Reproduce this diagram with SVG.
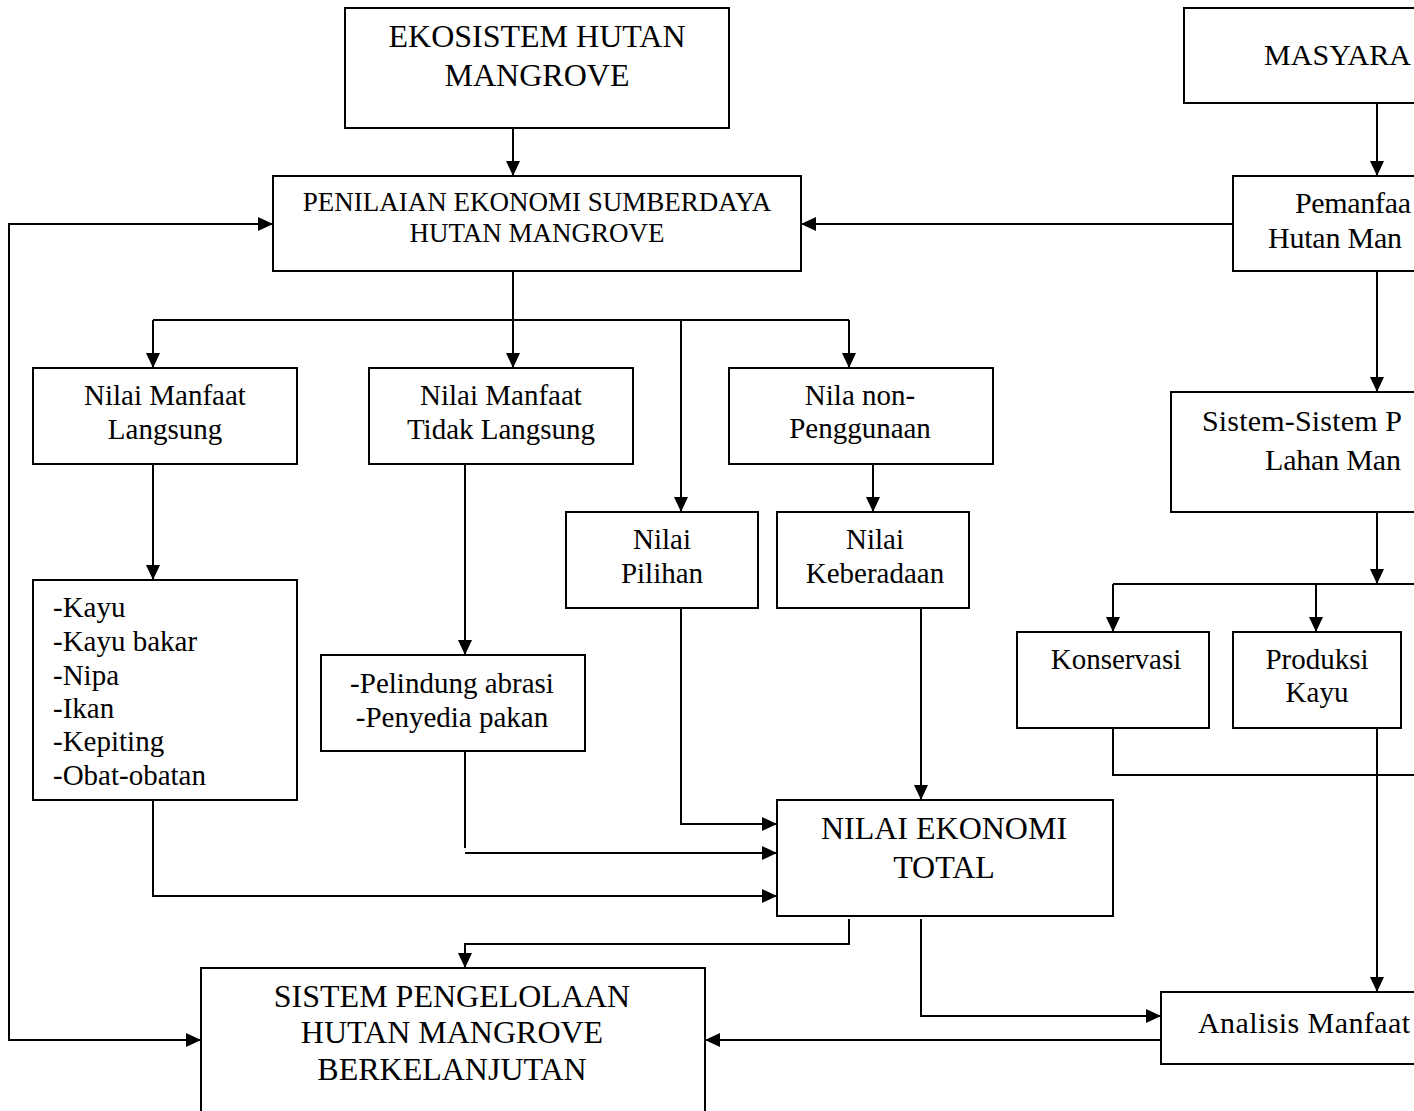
<svg xmlns="http://www.w3.org/2000/svg" width="1414" height="1111" viewBox="0 0 1414 1111">
<defs>
<style>
.box{fill:#fff;stroke:#000;stroke-width:2}
.ln{fill:none;stroke:#000;stroke-width:2}
.arr{marker-end:url(#ah)}
text{font-family:"Liberation Serif","Times New Roman",serif;fill:#000}
.big{font-size:32px}
.mid{font-size:29px}
.rt{font-size:30px}
.pen{font-size:27px}
.c{text-anchor:middle}
</style>
<marker id="ah" markerUnits="userSpaceOnUse" markerWidth="16" markerHeight="14" refX="15" refY="7" orient="auto-start-reverse">
<path d="M0,0 L15,7 L0,14 Z" fill="#000"/>
</marker>
</defs>
<rect width="1414" height="1111" fill="#fff"/>

<g id="connectors">
<path class="ln arr" d="M513,128 V176"/>
<path class="ln" d="M513,271 V320 M153,320 H849"/>
<path class="ln arr" d="M153,320 V368"/>
<path class="ln arr" d="M513,320 V368"/>
<path class="ln arr" d="M849,320 V368"/>
<path class="ln arr" d="M681,320 V512"/>
<path class="ln arr" d="M1233,224 H801"/>
<path class="ln" d="M273,224 H9 V1040 H201" marker-start="url(#ah)" marker-end="url(#ah)"/>
<path class="ln arr" d="M1377,103 V176"/>
<path class="ln arr" d="M1377,271 V392"/>
<path class="ln arr" d="M1377,512 V584"/>
<path class="ln" d="M1113,584 H1414"/>
<path class="ln arr" d="M1113,584 V632"/>
<path class="ln arr" d="M1316,584 V632"/>
<path class="ln" d="M1113,728 V775 H1414"/>
<path class="ln arr" d="M1377,728 V992"/>
<path class="ln arr" d="M153,464 V580"/>
<path class="ln arr" d="M465,464 V655"/>
<path class="ln arr" d="M873,464 V512"/>
<path class="ln arr" d="M681,608 V824 H777"/>
<path class="ln" d="M465,751 V848"/>
<path class="ln arr" d="M465,853 H777"/>
<path class="ln arr" d="M153,800 V896 H777"/>
<path class="ln arr" d="M921,608 V800"/>
<path class="ln arr" d="M849,919 V944 H465 V968"/>
<path class="ln arr" d="M921,919 V1016 H1161"/>
<path class="ln arr" d="M1161,1040 H705"/>
</g>

<g id="ekosistem">
<rect class="box" x="345" y="8" width="384" height="120"/>
<text class="big c" x="537" y="47">EKOSISTEM HUTAN</text>
<text class="big c" x="537" y="86">MANGROVE</text>
</g>

<g id="penilaian">
<rect class="box" x="273" y="176" width="528" height="95"/>
<text class="pen c" x="537" y="211">PENILAIAN EKONOMI SUMBERDAYA</text>
<text class="pen c" x="537" y="242">HUTAN MANGROVE</text>
</g>

<g id="masyarakat">
<rect class="box" x="1184" y="8" width="260" height="95"/>
<text class="rt" x="1264" y="65" textLength="147">MASYARA</text>
</g>

<g id="pemanfaatan">
<rect class="box" x="1233" y="176" width="220" height="95"/>
<text class="rt" x="1295" y="213" textLength="116">Pemanfaa</text>
<text class="rt" x="1268" y="248" textLength="134">Hutan Man</text>
</g>

<g id="sistem-lahan">
<rect class="box" x="1171" y="392" width="280" height="120"/>
<text class="rt" x="1202" y="431" textLength="200">Sistem-Sistem P</text>
<text class="rt" x="1265" y="470" textLength="136">Lahan Man</text>
</g>

<g id="langsung">
<rect class="box" x="33" y="368" width="264" height="96"/>
<text class="mid c" x="165" y="405">Nilai Manfaat</text>
<text class="mid c" x="165" y="439">Langsung</text>
</g>

<g id="tidak-langsung">
<rect class="box" x="369" y="368" width="264" height="96"/>
<text class="mid c" x="501" y="405">Nilai Manfaat</text>
<text class="mid c" x="501" y="439">Tidak Langsung</text>
</g>

<g id="non-penggunaan">
<rect class="box" x="729" y="368" width="264" height="96"/>
<text class="mid c" x="860" y="405">Nila non-</text>
<text class="mid c" x="860" y="438">Penggunaan</text>
</g>

<g id="pilihan">
<rect class="box" x="566" y="512" width="192" height="96"/>
<text class="mid c" x="662" y="549">Nilai</text>
<text class="mid c" x="662" y="583">Pilihan</text>
</g>

<g id="keberadaan">
<rect class="box" x="777" y="512" width="192" height="96"/>
<text class="mid c" x="875" y="549">Nilai</text>
<text class="mid c" x="875" y="583">Keberadaan</text>
</g>

<g id="daftar-langsung">
<rect class="box" x="33" y="580" width="264" height="220"/>
<text class="mid" x="53" y="617">-Kayu</text>
<text class="mid" x="53" y="651">-Kayu bakar</text>
<text class="mid" x="53" y="685">-Nipa</text>
<text class="mid" x="53" y="718">-Ikan</text>
<text class="mid" x="53" y="751">-Kepiting</text>
<text class="mid" x="53" y="785">-Obat-obatan</text>
</g>

<g id="daftar-tidak-langsung">
<rect class="box" x="321" y="655" width="264" height="96"/>
<text class="mid c" x="452" y="693">-Pelindung abrasi</text>
<text class="mid c" x="452" y="727">-Penyedia pakan</text>
</g>

<g id="konservasi">
<rect class="box" x="1017" y="632" width="192" height="96"/>
<text class="mid c" x="1116" y="669">Konservasi</text>
</g>

<g id="produksi">
<rect class="box" x="1233" y="632" width="168" height="96"/>
<text class="mid c" x="1317" y="669">Produksi</text>
<text class="mid c" x="1317" y="702">Kayu</text>
</g>

<g id="nilai-total">
<rect class="box" x="777" y="800" width="336" height="116"/>
<text class="big c" x="944" y="839">NILAI EKONOMI</text>
<text class="big c" x="944" y="878">TOTAL</text>
</g>

<g id="sistem-pengelolaan">
<rect class="box" x="201" y="968" width="504" height="160"/>
<text class="big c" x="452" y="1007">SISTEM PENGELOLAAN</text>
<text class="big c" x="452" y="1043">HUTAN MANGROVE</text>
<text class="big c" x="452" y="1080">BERKELANJUTAN</text>
</g>

<g id="analisis">
<rect class="box" x="1161" y="992" width="290" height="72"/>
<text class="rt" x="1198" y="1033" textLength="212">Analisis Manfaat</text>
</g>
</svg>
